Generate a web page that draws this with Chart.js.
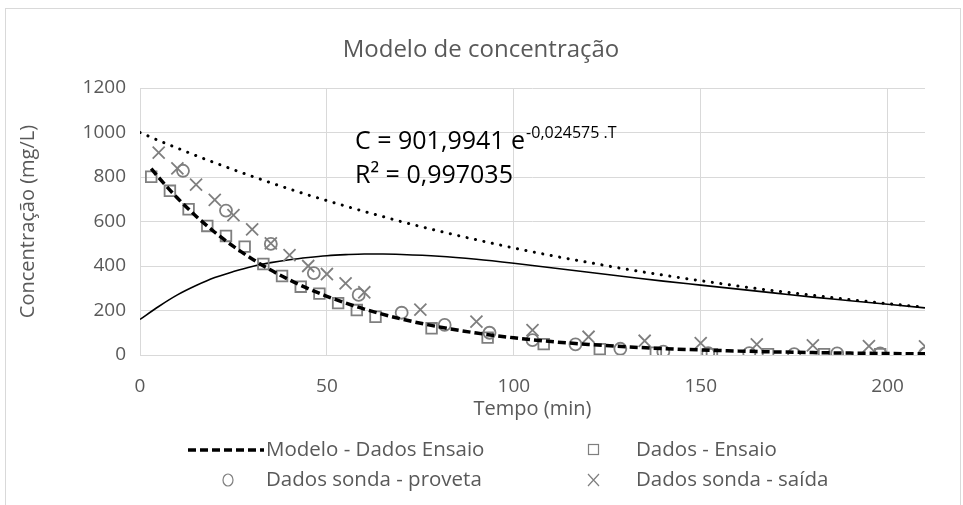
<!DOCTYPE html>
<html lang="pt">
<head>
<meta charset="UTF-8">
<title>Modelo de concentração</title>
<script src="https://cdn.jsdelivr.net/npm/chart.js"></script>
<style>
  body { margin: 0; background: #fff; }
  #wrap { width: 963px; height: 505px; }
</style>
</head>
<body>
<div id="wrap"><canvas id="concChart" width="963" height="505"></canvas></div>
<script>
  // Measured samples (t in min, C in mg/L)
  const ensaioTimes = [3, 8, 13, 18, 23, 28, 33, 38, 43, 48, 53, 58, 63, 78, 93, 108, 123, 138, 153, 168, 183, 198];
  const ensaioConc = [801, 738, 655, 580, 535, 487, 409, 355, 307, 276, 233, 202, 172, 120, 78, 49, 26, 10, 4, 4, 4, 4];

  const provetaTimes = [11.5, 23, 35, 46.5, 58.5, 70, 81.5, 93.5, 105, 116.5, 128.5, 140, 152, 163, 175, 186.5, 198, 210];
  const provetaConc = [828, 649, 499, 368, 270, 190, 135, 100, 67, 48, 28, 15, 8, 8, 4, 7, 7, 6];

  const saidaTimes = [5, 10, 15, 20, 25, 30, 35, 40, 45, 50, 55, 60, 75, 90, 105, 120, 135, 150, 165, 180, 195, 210];
  const saidaConc = [910, 839, 766, 697, 629, 565, 502, 449, 400, 364, 322, 282, 204, 150, 112, 82, 64, 53, 48, 43, 40, 39];

  // Reference curves
  const curveTimes = [0, 5, 10, 15, 20, 25, 30, 35, 40, 45, 50, 55, 60, 65, 70, 80, 90, 100, 110, 120, 130, 140, 150, 160, 170, 180, 190, 200, 210];
  const dottedConc = [1000, 964, 930, 896, 864, 833, 803, 774, 746, 719, 694, 669, 645, 622, 599, 557, 518, 481, 447, 416, 386, 359, 334, 310, 288, 268, 249, 231, 215];
  const solidConc = [160, 218, 270, 312, 348, 375, 398, 415, 428, 438, 446, 451, 454, 454, 452, 444, 430, 412, 392, 372, 352, 332, 314, 296, 278, 260, 244, 228, 212];

  // Exponential fit of the "Ensaio" data: C = A e^(-k T)
  const modelA = 901.9941;
  const modelK = 0.024575;
  const modelTimes = [3, 5, 10, 15, 20, 25, 30, 35, 40, 45, 50, 55, 60, 70, 80, 90, 100, 110, 120, 130, 140, 150, 160, 170, 180, 190, 200, 210];
  const modelConc = modelTimes.map(t => modelA * Math.exp(-modelK * t));

  const xTicks = [0, 50, 100, 150, 200];
  const yTicks = [0, 200, 400, 600, 800, 1000, 1200];

  const FONT = "'Open Sans', sans-serif";
  const TEXT = '#595959';
  const MARK = '#7f7f7f';
  const GRID = '#d9d9d9';

  const pts = (xs, ys) => xs.map((x, i) => ({ x: x, y: ys[i] }));

  // Title, fit equation, legend and outer frame
  const decorations = {
    id: 'decorations',
    afterDraw(chart) {
      const ctx = chart.ctx;
      ctx.save();
      ctx.strokeStyle = GRID;
      ctx.lineWidth = 1;
      ctx.strokeRect(5.5, 8.5, 955, 505);

      ctx.fillStyle = TEXT;
      ctx.font = '24px ' + FONT;
      ctx.textAlign = 'center';
      ctx.textBaseline = 'middle';
      ctx.fillText('Modelo de concentração', 481, 50);

      // trendline equation
      ctx.fillStyle = '#000';
      ctx.textAlign = 'left';
      ctx.textBaseline = 'alphabetic';
      ctx.font = '25px ' + FONT;
      const eq = 'C = 901,9941 e';
      ctx.fillText(eq, 355, 149);
      const w = ctx.measureText(eq).width;
      ctx.font = '16px ' + FONT;
      ctx.fillText('-0,024575 .T', 355 + w + 1, 138);
      ctx.font = '25px ' + FONT;
      ctx.fillText('R² = 0,997035', 355, 183);

      // legend
      ctx.fillStyle = TEXT;
      ctx.font = '20.5px ' + FONT;
      ctx.textBaseline = 'middle';
      const row1 = 450, row2 = 480;
      ctx.strokeStyle = '#000';
      ctx.lineWidth = 3.5;
      ctx.setLineDash([8, 4]);
      ctx.beginPath();
      ctx.moveTo(188, row1);
      ctx.lineTo(264, row1);
      ctx.stroke();
      ctx.setLineDash([]);
      ctx.fillText('Modelo - Dados Ensaio', 266, row1);
      ctx.fillText('Dados - Ensaio', 636, row1);
      ctx.fillText('Dados sonda - proveta', 266, row2);
      ctx.fillText('Dados sonda - saída', 636, row2);

      ctx.strokeStyle = MARK;
      ctx.lineWidth = 1.2;
      ctx.strokeRect(588.5, row1 - 5.5, 10, 10);
      ctx.beginPath();
      ctx.ellipse(228, row2, 5, 6, 0, 0, Math.PI * 2);
      ctx.stroke();
      ctx.beginPath();
      ctx.moveTo(588, row2 - 6); ctx.lineTo(599, row2 + 6);
      ctx.moveTo(599, row2 - 6); ctx.lineTo(588, row2 + 6);
      ctx.stroke();
      ctx.restore();
    }
  };

  const ctx = document.getElementById('concChart').getContext('2d');
  const concChart = new Chart(ctx, {
    type: 'scatter',
    data: {
      datasets: [
        {
          label: 'Modelo - Dados Ensaio',
          data: pts(modelTimes, modelConc),
          showLine: true,
          pointRadius: 0,
          borderColor: '#000',
          borderWidth: 3.5,
          borderDash: [8, 4],
          cubicInterpolationMode: 'monotone'
        },
        {
          label: 'Dados - Ensaio',
          data: pts(ensaioTimes, ensaioConc),
          pointStyle: 'rect',
          pointRadius: 7.5,
          borderColor: MARK,
          backgroundColor: 'rgba(0,0,0,0)',
          borderWidth: 1.8
        },
        {
          label: 'Dados sonda - proveta',
          data: pts(provetaTimes, provetaConc),
          pointStyle: 'circle',
          pointRadius: 6,
          borderColor: MARK,
          backgroundColor: 'rgba(0,0,0,0)',
          borderWidth: 1.8
        },
        {
          label: 'Dados sonda - saída',
          data: pts(saidaTimes, saidaConc),
          pointStyle: 'crossRot',
          pointRadius: 8.5,
          borderColor: MARK,
          borderWidth: 1.8
        },
        {
          label: 'curva pontilhada',
          data: pts(curveTimes, dottedConc),
          showLine: true,
          pointRadius: 0,
          borderColor: '#000',
          borderWidth: 3,
          borderDash: [0.1, 8.5],
          borderCapStyle: 'round',
          cubicInterpolationMode: 'monotone'
        },
        {
          label: 'curva contínua',
          data: pts(curveTimes, solidConc),
          showLine: true,
          pointRadius: 0,
          borderColor: '#000',
          borderWidth: 1.6,
          cubicInterpolationMode: 'monotone'
        }
      ]
    },
    options: {
      responsive: false,
      animation: false,
      layout: { padding: { left: 0, top: 88, right: 38, bottom: 84 } },
      plugins: {
        legend: { display: false },
        title: { display: false },
        tooltip: { enabled: false }
      },
      scales: {
        x: {
          type: 'linear',
          min: 0,
          max: 210,
          afterFit: s => { s.height = 66; },
          afterBuildTicks: s => { s.ticks = xTicks.map(v => ({ value: v })); },
          grid: { color: GRID, drawTicks: false },
          border: { color: GRID },
          ticks: { color: TEXT, font: { family: FONT, size: 19 }, padding: 20, maxRotation: 0, callback: v => String(v) },
          title: { display: true, text: 'Tempo (min)', color: TEXT, font: { family: FONT, size: 20 }, padding: 0 }
        },
        y: {
          min: 0,
          max: 1200,
          afterFit: s => { s.width = 140; },
          afterBuildTicks: s => { s.ticks = yTicks.map(v => ({ value: v })); },
          grid: { color: GRID, drawTicks: false },
          border: { display: false },
          ticks: { color: TEXT, font: { family: FONT, size: 19 }, padding: 14, callback: v => String(v) },
          title: { display: true, text: 'Concentração (mg/L)', color: TEXT, font: { family: FONT, size: 20 }, padding: { top: 16 } }
        }
      }
    },
    plugins: [decorations]
  });
</script>
</body>
</html>
